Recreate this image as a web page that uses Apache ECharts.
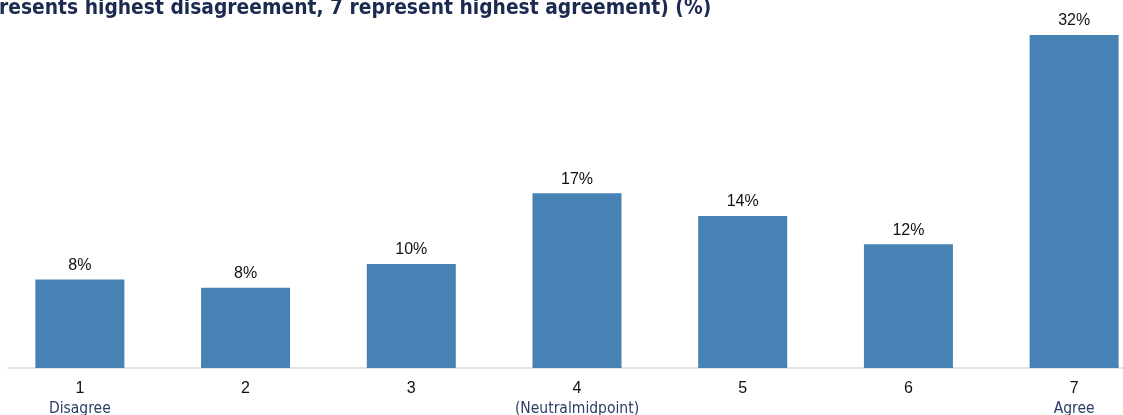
<!DOCTYPE html>
<html>
<head>
<meta charset="utf-8">
<script src="https://cdn.jsdelivr.net/npm/echarts@6/dist/echarts.min.js"></script>
<style>html,body{margin:0;padding:0;background:#fff}#c{width:1123px;height:415px}</style>
</head>
<body>
<div id="c"></div>
<script>
const titleText = "resents highest disagreement, 7 represent highest agreement) (%)";
const categories = ["1", "2", "3", "4", "5", "6", "7"];
const subLabels = ["Disagree", "", "", "(Neutralmidpoint)", "", "", "Agree"];
const values = [8.5, 7.7, 10.0, 16.8, 14.6, 11.9, 32.0];
const valueLabels = ["8%", "8%", "10%", "17%", "14%", "12%", "32%"];

const chart = echarts.init(document.getElementById('c'));
chart.setOption({
  animation: false,
  title: {
    text: titleText,
    left: -1,
    top: -2,
    padding: 0,
    textStyle: {
      fontFamily: "'DejaVu Sans Condensed',sans-serif",
      fontWeight: 'bold',
      fontSize: 20.8,
      color: '#1b2a4e'
    }
  },
  grid: [
    { left: -3, width: 1160, top: 35, bottom: 47, outerBoundsMode: 'none', containLabel: false },
    { left: 8, right: 0, top: 35, bottom: 47, outerBoundsMode: 'none', containLabel: false }
  ],
  xAxis: [
    {
      type: 'category',
      gridIndex: 0,
      data: categories,
      axisLine: { show: false },
      axisTick: { show: false },
      axisLabel: {
        margin: 11,
        interval: 0,
        formatter: function (v, i) {
          return subLabels[i] ? '{n|' + v + '}\n{s|' + subLabels[i] + '}' : '{n|' + v + '}';
        },
        rich: {
          n: { fontFamily: "'Liberation Sans',Arial,sans-serif", fontSize: 16, color: '#111', lineHeight: 20 },
          s: { fontFamily: "'DejaVu Sans Condensed',sans-serif", fontSize: 15.5, color: '#2b3d66', lineHeight: 20 }
        }
      }
    },
    {
      type: 'value',
      gridIndex: 1,
      min: 0, max: 1,
      axisLine: { show: true, onZero: false, lineStyle: { color: '#e3e3e3', width: 2 } },
      axisTick: { show: false },
      axisLabel: { show: false },
      splitLine: { show: false }
    }
  ],
  yAxis: [
    { type: 'value', gridIndex: 0, min: 0, max: 32, show: false },
    { type: 'value', gridIndex: 1, min: 0, max: 1, show: false }
  ],
  series: [{
    type: 'bar',
    xAxisIndex: 0,
    yAxisIndex: 0,
    data: values,
    barWidth: 89,
    itemStyle: { color: '#4682b4' },
    label: {
      show: true,
      position: 'top',
      distance: 6,
      fontFamily: "'Liberation Sans',Arial,sans-serif",
      fontSize: 16,
      color: '#111',
      formatter: function (p) { return valueLabels[p.dataIndex]; }
    }
  }]
});
</script>
</body>
</html>
